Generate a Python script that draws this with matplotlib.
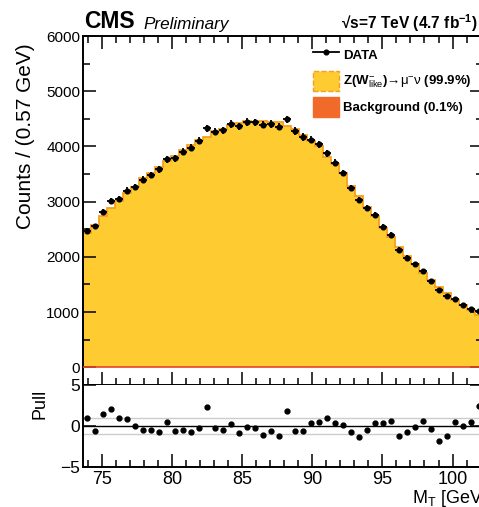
"""
CMS-style transverse mass plot with pull panel.
Writes out.png (479x507 px).
"""

import matplotlib

matplotlib.use("Agg")
import matplotlib.pyplot as plt
import numpy as np
from matplotlib.lines import Line2D
from matplotlib.patches import Patch
from matplotlib.ticker import MultipleLocator

# ──────────────────────────────────────────────
# 1.  DATA
# ──────────────────────────────────────────────
BIN_LOW = 73.67
BIN_WIDTH = 0.57
N_BINS = 50

data_counts = [
    2473, 2551, 2812, 3006, 3055, 3200, 3267, 3400, 3485, 3588,
    3770, 3788, 3903, 3976, 4103, 4327, 4267, 4291, 4406, 4364,
    4442, 4436, 4394, 4406, 4358, 4491, 4279, 4170, 4121, 4036,
    3873, 3703, 3521, 3248, 3036, 2885, 2752, 2539, 2400, 2127,
    1982, 1867, 1739, 1564, 1394, 1297, 1230, 1121, 1061, 1024,
]

signal_counts = [
    2424, 2577, 2734, 2888, 3001, 3151, 3266, 3426, 3509, 3631,
    3739, 3825, 3931, 4016, 4113, 4169, 4282, 4320, 4383, 4417,
    4450, 4446, 4466, 4444, 4432, 4369, 4319, 4209, 4095, 3999,
    3807, 3676, 3509, 3289, 3107, 2906, 2730, 2518, 2365, 2178,
    2010, 1871, 1709, 1574, 1457, 1336, 1211, 1119, 1042, 943,
]

background_counts = [
    3, 3, 3, 3, 3, 3, 3, 3, 3, 3,
    3, 3, 3, 3, 3, 3, 3, 3, 3, 3,
    3, 3, 3, 3, 3, 3, 3, 3, 3, 3,
    3, 3, 3, 3, 3, 3, 3, 3, 3, 3,
    3, 3, 3, 3, 3, 3, 3, 3, 3, 3,
]

pulls = [
    0.93, -0.57, 1.42, 2.10, 0.93, 0.81, -0.04, -0.49, -0.45, -0.77,
    0.45, -0.65, -0.49, -0.69, -0.20, 2.35, -0.28, -0.49, 0.30, -0.85,
    -0.16, -0.20, -1.13, -0.61, -1.17, 1.78, -0.65, -0.65, 0.36, 0.53,
    1.01, 0.40, 0.16, -0.77, -1.34, -0.45, 0.36, 0.36, 0.65, -1.17,
    -0.69, -0.16, 0.65, -0.32, -1.78, -1.17, 0.45, -0.04, 0.49, 2.43,
]

main_yticks = [0, 1000, 2000, 3000, 4000, 5000, 6000]
pull_yticks = [-5, 0, 5]
x_ticks = [75, 80, 85, 90, 95, 100]

# ──────────────────────────────────────────────
# 2.  STYLE / LAYOUT
# ──────────────────────────────────────────────
FIG_W, FIG_H, DPI = 479, 507, 100
FONT = ["Liberation Sans", "DejaVu Sans"]

YELLOW = "#FECB31"
YELLOW_EDGE = "#F5A01E"
BKG_ORANGE = "#F26A2A"
BKG_LINE = "#E8442A"

# axes rectangles in pixels: left, top, right, bottom
MAIN_BOX = (83, 36, 483, 385)
PULL_BOX = (83, 385, 483, 467)


def px_rect(box):
    left, top, right, bottom = box
    return [left / FIG_W, 1 - bottom / FIG_H,
            (right - left) / FIG_W, (bottom - top) / FIG_H]


def style_axis(ax, ylabelsize):
    ax.tick_params(which="both", direction="in", top=True, right=True,
                   width=1.1, labelsize=ylabelsize, pad=2)
    ax.tick_params(which="major", length=9.5)
    ax.tick_params(which="minor", length=5)
    for sp in ax.spines.values():
        sp.set_linewidth(1.4)


# ──────────────────────────────────────────────
# 3.  PLOT
# ──────────────────────────────────────────────
def main():
    plt.rcParams["font.family"] = FONT
    plt.rcParams["mathtext.fontset"] = "custom"
    plt.rcParams["mathtext.rm"] = "Liberation Sans"
    plt.rcParams["mathtext.it"] = "Liberation Sans:italic"
    plt.rcParams["mathtext.bf"] = "Liberation Sans:bold"

    edges = BIN_LOW + BIN_WIDTH * np.arange(N_BINS + 1)
    centers = 0.5 * (edges[:-1] + edges[1:])
    data = np.array(data_counts, dtype=float)
    bkg = np.array(background_counts, dtype=float)
    total = bkg + np.array(signal_counts, dtype=float)

    fig = plt.figure(figsize=(FIG_W / DPI, FIG_H / DPI), dpi=DPI)
    ax = fig.add_axes(px_rect(MAIN_BOX))
    axp = fig.add_axes(px_rect(PULL_BOX), sharex=ax)

    # --- stacked MC ---
    ax.stairs(total, edges, fill=True, color=YELLOW, zorder=1)
    ax.stairs(total, edges, color=YELLOW_EDGE, linewidth=1.3, zorder=2)
    ax.stairs(bkg, edges, fill=True, color=BKG_ORANGE, zorder=3)
    ax.stairs(bkg, edges, color=BKG_LINE, linewidth=1.2, zorder=3)

    # --- data ---
    ax.errorbar(centers, data, xerr=BIN_WIDTH / 2, yerr=np.sqrt(data),
                fmt="o", color="black", ms=3.4, elinewidth=1.3,
                capsize=0, zorder=5)

    ax.set_xlim(edges[0], edges[-1])
    ax.set_ylim(-320, 6000)
    ax.set_yticks(main_yticks)
    ax.yaxis.set_minor_locator(MultipleLocator(500))
    ax.xaxis.set_minor_locator(MultipleLocator(1))
    ax.set_xticks(x_ticks)
    style_axis(ax, 11)
    ax.tick_params(labelbottom=False)

    # --- pull panel ---
    axp.axhline(1, color="#cccccc", lw=1.0, zorder=1)
    axp.axhline(-1, color="#cccccc", lw=1.0, zorder=1)
    axp.axhline(0, color="black", lw=1.0, zorder=1)
    axp.plot(centers, pulls, "o", color="black", ms=3.5, zorder=3)
    axp.set_ylim(-5, 5)
    axp.set_yticks(pull_yticks)
    axp.set_yticklabels(["\u22125", "0", "5"])
    style_axis(axp, 12.5)
    axp.tick_params(axis="x", labelsize=13, pad=3)
    axp.tick_params(axis="x", which="both", top=False)
    axp.tick_params(axis="y", which="minor", left=False, right=False)
    axp.spines["top"].set_visible(False)

    # --- axis titles ---
    fig.text(26 / FIG_W, 1 - 43 / FIG_H, "Counts / (0.57 GeV)", rotation=90,
             ha="center", va="top", fontsize=15)
    fig.text(40 / FIG_W, 1 - 389 / FIG_H, "Pull", rotation=90,
             ha="center", va="top", fontsize=13)
    fig.text(412 / FIG_W, 4 / FIG_H, r"M$_{\mathrm{T}}$ [GeV]",
             ha="left", va="baseline", fontsize=13)

    # --- header ---
    fig.text(84 / FIG_W, 1 - 28.5 / FIG_H, "CMS", fontsize=16.5,
             fontweight="bold", va="baseline")
    fig.text(143 / FIG_W, 1 - 28.5 / FIG_H, "Preliminary", fontsize=12.3,
             fontstyle="italic", va="baseline")
    fig.text(478 / FIG_W, 1 - 28.5 / FIG_H,
             "\u221as=7 TeV (4.7 fb$^{\\mathbf{-1}}$)",
             fontsize=11.2, fontweight="bold", ha="right", va="baseline")

    # --- legend ---
    handles = [
        Line2D([], [], color="black", marker="o", ms=3.4, lw=1.3),
        Patch(facecolor=YELLOW, edgecolor=YELLOW_EDGE, linestyle="--", lw=1.0),
        Patch(facecolor=BKG_ORANGE, edgecolor=BKG_ORANGE),
    ]
    labels = [
        "DATA",
        r"Z(W$^{-}_{\mathrm{like}}$)$\mathrm{→μ^{-}ν}$ (99.9%)",
        "Background (0.1%)",
    ]
    leg = fig.legend(handles, labels, loc="upper left",
                     bbox_to_anchor=(301 / FIG_W, 1 - 33 / FIG_H),
                     frameon=False, handlelength=2.0, handleheight=1.9,
                     handletextpad=0.3, labelspacing=0.5,
                     prop={"family": FONT, "weight": "bold", "size": 9.5})
    for txt in leg.get_texts():
        txt.set_fontweight("bold")

    fig.savefig("out.png", dpi=DPI)
    plt.close(fig)


if __name__ == "__main__":
    main()
